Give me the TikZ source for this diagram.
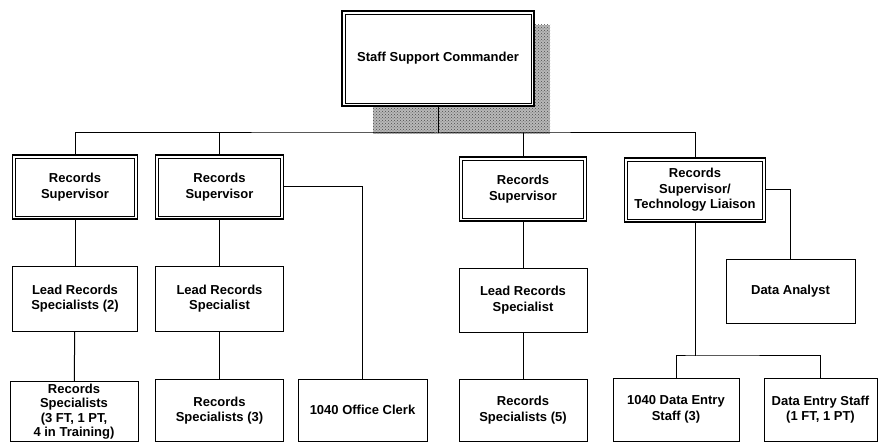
\documentclass[tikz,border=0pt]{standalone}
\usepackage{fontspec}
\setmainfont{Liberation Sans}
\usetikzlibrary{positioning,patterns}

\begin{document}
\begin{tikzpicture}[
    x=1pt,
    y=-1pt,
    tie/.style={line width=1pt,black},
    post/.style={
        draw=black,
        line width=0.9pt,
        fill=white,
        inner sep=2pt,
        align=center,
        font=\fontsize{13}{15.5}\selectfont\bfseries,
        minimum height=62pt
    },
    chief/.style={
        post,
        line width=1.5pt,
        minimum height=64pt,
        path picture={
            \draw[line width=0.7pt]
                ([shift={(3pt,-3pt)}]path picture bounding box.north west) rectangle
                ([shift={(-3pt,3pt)}]path picture bounding box.south east);
        }
    }
]
\useasboundingbox (0,0) rectangle (884,443);

% Commander with its shadow.
\fill[black!28] (373,25) rectangle (550,134);
\fill[pattern=crosshatch dots,pattern color=black!70] (373,25) rectangle (550,134);
\node[chief,minimum width=192pt,minimum height=95pt] (cmd) at (438,58.5) {Staff Support Commander};

% Supervisors.
\node[chief,minimum width=125pt] (sup1) at (75,187) {Records\\Supervisor};
\node[chief,minimum width=128pt] (sup2) at (219.5,187) {Records\\Supervisor};
\node[chief,minimum width=127pt] (sup3) at (523,189) {Records\\Supervisor};
\node[chief,minimum width=141pt] (sup4) at (695,190) {Records\\Supervisor/\\Technology Liaison};

% Lead specialists.
\node[post,minimum width=125pt,minimum height=65pt] (lead1) at (75,298.5) {Lead Records\\Specialists (2)};
\node[post,minimum width=128pt,minimum height=65pt] (lead2) at (219.5,298.5) {Lead Records\\Specialist};
\node[post,minimum width=128pt,minimum height=64pt] (lead3) at (523,300) {Lead Records\\Specialist};
\node[post,minimum width=129pt,minimum height=64pt] (analyst) at (790.5,291) {Data Analyst};

% Bottom row.
\node[post,minimum width=128pt,minimum height=59pt,font=\fontsize{13}{14.5}\selectfont\bfseries] (spec1) at (74,411.5) {Records\\Specialists\\(3 FT, 1 PT,\\4 in Training)};
\node[post,minimum width=128pt] (spec2) at (219.5,410.5) {Records\\Specialists (3)};
\node[post,minimum width=129pt] (clerk) at (362.5,410) {1040 Office Clerk};
\node[post,minimum width=128pt] (spec3) at (523,410) {Records\\Specialists (5)};
\node[post,minimum width=126pt,minimum height=63pt] (entry1) at (676,409.5) {1040 Data Entry\\Staff (3)};
\node[post,minimum width=113pt,minimum height=63pt] (entry2) at (820.5,409.5) {Data Entry Staff\\(1 FT, 1 PT)};

% Connectors.
\coordinate (bus) at (438,133);
\coordinate (fork) at (695,356);

\draw[tie] (cmd.south) -- (bus);
\draw[tie] (sup1.north) |- (bus) -| (sup4.north);
\draw[tie] (sup2.north) -- (sup2.north |- bus);
\draw[tie] (sup3.north) -- (sup3.north |- bus);

\draw[tie] (sup1) -- (lead1);
\draw[tie] (lead1) -- (spec1);
\draw[tie] (sup2) -- (lead2);
\draw[tie] (lead2) -- (spec2);
\draw[tie] (sup2.east) -| (clerk.north);
\draw[tie] (sup3) -- (lead3);
\draw[tie] (lead3) -- (spec3);

\draw[tie] (sup4.east) -| (analyst.north);
\draw[tie] (sup4.south) -- (fork);
\draw[tie] (entry1.north) |- (fork) -| (entry2.north);

\end{tikzpicture}
\end{document}
